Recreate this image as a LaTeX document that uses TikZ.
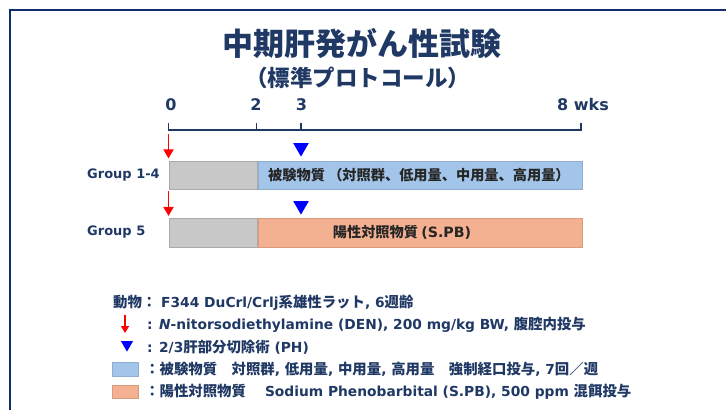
\documentclass[tikz,border=0pt]{standalone}
\usepackage{fontspec}
\setmainfont{DejaVu Sans}
\newfontfamily\jpfont{Noto Sans CJK JP}
\usepackage{tikz}
\usetikzlibrary{positioning,shapes.geometric,arrows.meta}
\definecolor{navy}{HTML}{1F3864}
\definecolor{framec}{HTML}{102E6C}
\definecolor{textc}{HTML}{262626}
\definecolor{barg}{HTML}{C8C8C8}
\definecolor{barb}{HTML}{A3C5E9}
\definecolor{baro}{HTML}{F4B192}
\newcommand{\jp}[1]{{\jpfont\fontsize{14.4}{14.4}\selectfont #1}}

\begin{document}
\begin{tikzpicture} [
		x=1pt, y=-1pt,
		title/.style    = { text=navy, inner sep=0,
			font=\jpfont\bfseries\fontsize{31}{31}\selectfont },
		subtitle/.style = { text=navy, inner sep=0,
			font=\jpfont\bfseries\fontsize{22.5}{22.5}\selectfont },
		weeks/.style    = { text=navy, inner sep=0,
			font=\bfseries\fontsize{16}{16}\selectfont },
		group/.style    = { text=navy, inner sep=0, anchor=west,
			font=\bfseries\fontsize{13}{13}\selectfont },
		bar/.style      = { rectangle, line width=0.6pt, inner sep=0,
			minimum height=28.5pt, anchor=west },
		bartext/.style  = { text=textc, inner sep=0,
			font=\jpfont\bfseries\fontsize{14.2}{14.2}\selectfont },
		legend/.style   = { text=navy, inner sep=0, anchor=west,
			font=\bfseries\fontsize{13.8}{13.8}\selectfont },
		keybox/.style   = { rectangle, line width=0.6pt, inner sep=0,
			minimum width=26pt, minimum height=13.5pt },
		den/.style      = { draw=red, line width=1.8pt,
			-{Triangle[length=9pt,width=10pt]} },
		ph/.style       = { regular polygon, regular polygon sides=3,
			shape border rotate=180, fill=blue, inner sep=0,
			minimum size=18pt, anchor=corner 1 },
		tick/.style     = { draw=navy, line width=1.4pt },
		]
		\useasboundingbox (0,0) rectangle (726,410);
		% frame
		\draw[framec, line width=2.5pt] (10,410) -- (10,10) -- (726,10);
		% title
		\node[title] (ttl) at (362,43) {中期肝発がん性試験};
		\node[subtitle] (sub) at (357.5,78) {（標準プロトコール）};
		% time axis
		\coordinate (t0) at (168.5,130);
		\coordinate (t2) at (256.7,130);
		\coordinate (t3) at (301,130);
		\coordinate (t8) at (581,130);
		\draw[tick] ([yshift=7pt] t0) -- (t0) -- (t8) -- ([yshift=7pt] t8);
		\draw[tick] (t2) -- ([yshift=7pt] t2);
		\draw[tick] (t3) -- ([yshift=7pt] t3);
		\node[weeks] (w0) at (171,105) {0};
		\node[weeks] (w2) at (256,105) {2};
		\node[weeks] (w3) at (301.5,105) {3};
		\node[weeks] (w8) at (583,105) {8 wks};
		% group 1-4
		\node[group] (grp1) at (87,175) {Group 1-4};
		\node[bar, fill=barg, draw=barg!85!black, minimum width=88.5pt] (g1) at (168.5,175.5) {};
		\node[bar, fill=barb, draw=barb!88!black, minimum width=324.5pt, right=0pt of g1] (b1) {};
		\node[bartext, anchor=west] (b1t) at (268,175.5) {被験物質 （対照群、低用量、中用量、高用量）};
		\coordinate (d1) at (168.5,134);
		\draw[den, shorten >=2.5pt] (d1) -- (g1.north west);
		\node[ph] (ph1) at (301,157) {};
		% group 5
		\node[group] (grp5) at (87,232) {Group 5};
		\node[bar, fill=barg, draw=barg!85!black, minimum width=88.5pt] (g5) at (168.5,233) {};
		\node[bar, fill=baro, draw=baro!88!black, minimum width=324.5pt, right=0pt of g5] (o5) {};
		\node[bartext] (o5t) at (402,232.5) {陽性対照物質 {\fontspec{DejaVu Sans}(S.PB)}};
		\coordinate (d5) at (168.5,191);
		\draw[den, shorten >=2.5pt] (d5) -- (g5.north west);
		\node[ph] (ph5) at (301,215) {};
		% legend
		\node[legend] (l1) at (113,302.5) {\jp{動物：} F344 DuCrl/Crlj\jp{系雄性ラット}, 6\jp{週齢}};
		\coordinate (k2a) at (125,315);
		\coordinate (k2b) at (125,333);
		\draw[den, line width=1.6pt, -{Triangle[length=7pt,width=8pt]}] (k2a) -- (k2b);
		\node[legend] (l2) at (147,324.5) {: \textit{N}-nitorsodiethylamine (DEN), 200 mg/kg BW, \jp{腹腔内投与}};
		\node[ph, minimum size=14pt] (k3) at (127,352) {};
		\node[legend] (l3) at (147,347) {: 2/3\jp{肝部分切除術} (PH)};
		\node[keybox, fill=barb, draw=barb!88!black] (k4) at (125,369.5) {};
		\node[legend] (l4) at (145,369.5) {\jp{：被験物質　対照群}, \jp{低用量}, \jp{中用量}, \jp{高用量　強制経口投与}, 7\jp{回／週}};
		\node[keybox, fill=baro, draw=baro!88!black] (k5) at (125,392) {};
		\node[legend] (l5) at (145,392) {\jp{：陽性対照物質}\hspace{19pt}Sodium Phenobarbital (S.PB), 500 ppm \jp{混餌投与}};
		\end{tikzpicture}
\end{document}
